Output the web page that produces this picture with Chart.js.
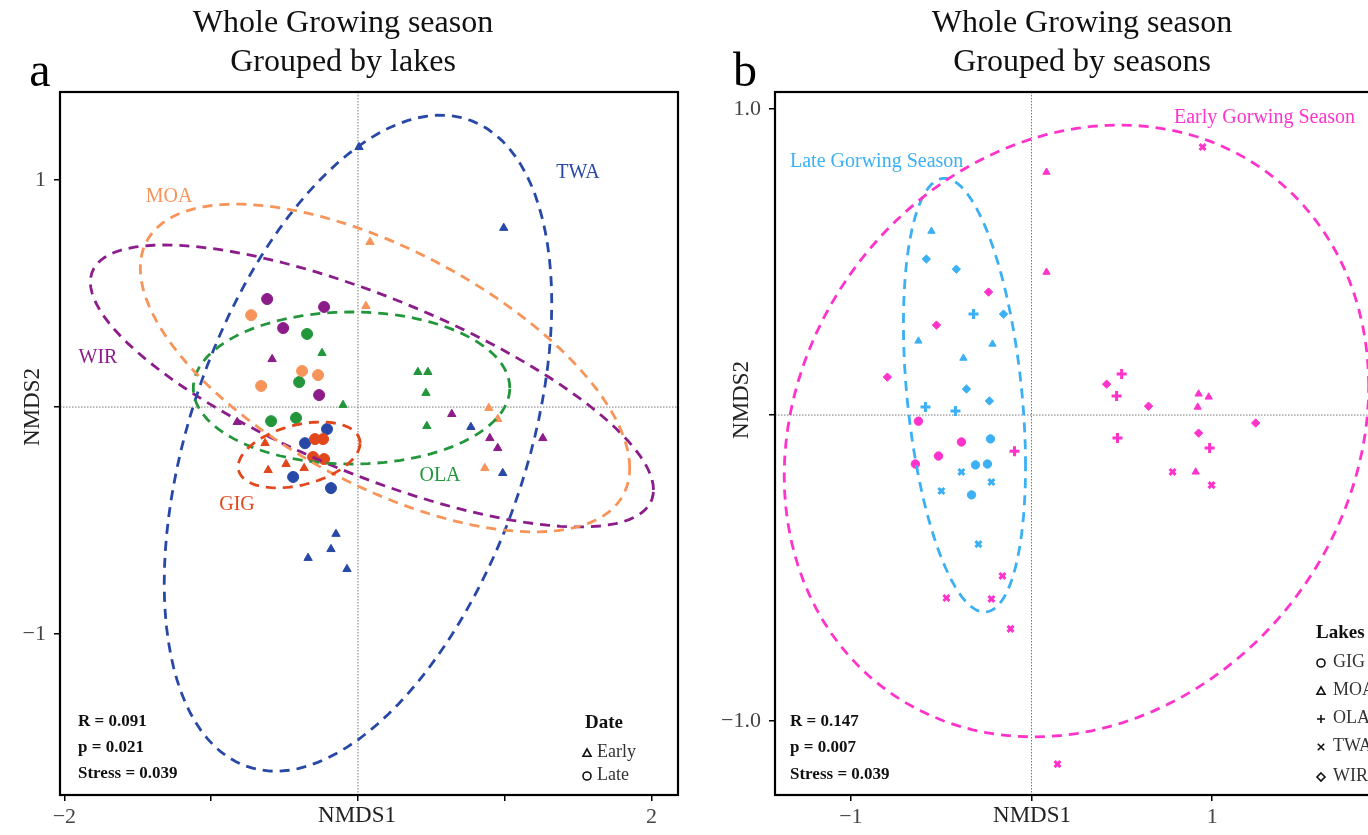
<!DOCTYPE html>
<html>
<head>
<meta charset="utf-8">
<script src="https://cdn.jsdelivr.net/npm/chart.js@4.4.1/dist/chart.umd.min.js"></script>
<style>
    html, body { margin: 0; padding: 0; background: #fff; overflow: hidden; width: 1368px; height: 835px; }
    #chartA { position: absolute; left: 0; top: 0; }
    #chartB { position: absolute; left: 700px; top: 0; }
</style>
</head>
<body>
<canvas id="chartA" width="700" height="835"></canvas>
<canvas id="chartB" width="720" height="835"></canvas>
<script>
// ---------- Panel a: NMDS scores grouped by lakes (Early = triangle, Late = circle)
const lakes = ["GIG", "MOA", "OLA", "TWA", "WIR"];

const aGigEarly = [[-0.633, -0.159], [-0.612, -0.278], [-0.490, -0.251], [-0.367, -0.269]];
const aGigLate  = [[-0.293, -0.141], [-0.238, -0.141], [-0.306, -0.220], [-0.231, -0.229]];
const aMoaEarly = [[0.082, 0.727], [0.054, 0.445], [0.891, -0.004], [0.952, -0.053], [0.864, -0.269]];
const aMoaLate  = [[-0.728, 0.405], [-0.381, 0.159], [-0.272, 0.141], [-0.660, 0.093]];
const aOlaEarly = [[-0.245, 0.238], [-0.102, 0.009], [0.408, 0.154], [0.476, 0.154], [0.463, 0.062], [0.469, -0.084]];
const aOlaLate  = [[-0.347, 0.322], [-0.401, 0.110], [-0.592, -0.062], [-0.422, -0.048]];
const aTwaEarly = [[0.007, 1.145], [0.993, 0.789], [0.769, -0.088], [0.986, -0.291], [-0.150, -0.559], [-0.184, -0.626], [-0.340, -0.665], [-0.075, -0.714]];
const aTwaLate  = [[-0.211, -0.097], [-0.361, -0.159], [-0.442, -0.308], [-0.184, -0.357]];
const aWirEarly = [[-0.585, 0.211], [-0.823, -0.066], [0.639, -0.031], [0.898, -0.137], [0.952, -0.181], [1.259, -0.137]];
const aWirLate  = [[-0.619, 0.476], [-0.231, 0.441], [-0.510, 0.348], [-0.265, 0.053]];

// confidence ellipses per lake (centre, half-width, half-height, correlation)
const aEllCx  = [-0.401, 0.184, -0.044, 0.000, 0.095];
const aEllCy  = [-0.211, 0.172, 0.084, -0.159, 0.093];
const aEllRx  = [0.415, 1.667, 1.078, 1.320, 1.918];
const aEllRy  = [0.145, 0.722, 0.335, 1.445, 0.621];
const aEllRho = [0.36, -0.61, 0.0, 0.427, -0.737];

const aTicksX = [-2, -1, 0, 1, 2];
const aTickLabelsX = ["\u22122", "", "", "", "2"];
const aTicksY = [-1, 0, 1];
const aTickLabelsY = ["\u22121", "", "1"];

// ---------- Panel b: grouped by seasons (colour = season, shape = lake)
const bGigEarly = [[-0.626, -0.020], [-0.388, -0.088], [-0.515, -0.134], [-0.643, -0.160]];
const bMoaEarly = [[0.083, 0.794], [0.083, 0.467], [0.925, 0.069], [0.981, 0.059], [0.920, 0.026], [0.909, -0.186]];
const bOlaEarly = [[0.499, 0.134], [0.471, 0.062], [0.476, -0.075], [0.986, -0.108], [-0.094, -0.118]];
const bTwaEarly = [[0.947, 0.876], [0.781, -0.186], [0.997, -0.229], [-0.161, -0.526], [-0.471, -0.598], [-0.222, -0.601], [-0.116, -0.699], [0.144, -1.141]];
const bWirEarly = [[-0.238, 0.402], [-0.526, 0.294], [-0.798, 0.124], [0.416, 0.101], [0.648, 0.029], [1.241, -0.026], [0.925, -0.059]];
const bGigLate  = [[-0.227, -0.078], [-0.310, -0.163], [-0.244, -0.160], [-0.332, -0.261]];
const bMoaLate  = [[-0.554, 0.601], [-0.626, 0.242], [-0.216, 0.232], [-0.377, 0.186]];
const bOlaLate  = [[-0.321, 0.330], [-0.587, 0.026], [-0.421, 0.013]];
const bTwaLate  = [[-0.388, -0.186], [-0.222, -0.219], [-0.499, -0.248], [-0.294, -0.422]];
const bWirLate  = [[-0.582, 0.510], [-0.416, 0.477], [-0.155, 0.330], [-0.360, 0.085], [-0.233, 0.046]];

// ellipses: [Early, Late]
const bEllCx  = [0.249, -0.371];
const bEllCy  = [-0.052, 0.065];
const bEllRx  = [1.618, 0.338];
const bEllRy  = [1.0, 0.709];
const bEllRho = [0.147, -0.328];

const bTicksX = [-1, 0, 1, 2];
const bTickLabelsX = ["\u22121", "", "1", ""];
const bTicksY = [-1, 0, 1];
const bTickLabelsY = ["\u22121.0", "", "1.0"];

// ---------- styles
const SERIF = "'Liberation Serif', 'Times New Roman', serif";
const lakeColors = ["#E2471C", "#F7945A", "#23963B", "#2848A8", "#8B1C8A"];
const EARLY = "#FF33CC";
const LATE = "#3BB0F5";
const lakeShapes = ["circle", "triangle", "cross", "crossRot", "rectRot"];

const toXY = arr => arr.map(p => ({ x: p[0], y: p[1] }));

// outline of a covariance ellipse
function ellipse(cx, cy, rx, ry, rho) {
    const pts = [];
    const s = Math.sqrt(1 - rho * rho);
    for (let i = 0; i <= 120; i++) {
        const t = i / 120 * 2 * Math.PI;
        pts.push({ x: cx + rx * Math.cos(t), y: cy + ry * (rho * Math.cos(t) + s * Math.sin(t)) });
    }
    return pts;
}

function pointSet(label, data, color, style, radius) {
    const lineOnly = style === "cross" || style === "crossRot";
    return {
        label, data: toXY(data), showLine: false,
        backgroundColor: color, borderColor: color,
        pointStyle: style, pointRadius: radius, pointHoverRadius: radius,
        borderWidth: lineOnly ? 3 : 1
    };
}

function ellipseSet(label, pts, color) {
    return {
        label, data: pts, showLine: true, fill: false, tension: 0,
        borderColor: color, borderWidth: 2.8, borderDash: [10, 7],
        pointRadius: 0, pointHoverRadius: 0
    };
}

function axis(pos, min, max, ticks, labels, size) {
    return {
        type: "linear", position: pos, min, max,
        afterBuildTicks: s => { s.ticks = ticks.map(v => ({ value: v })); },
        afterFit: s => { if (pos === "left") s.width = size; else s.height = size; },
        ticks: {
            autoSkip: false, maxRotation: 0, padding: pos === "left" ? 8 : 3, color: "#444",
            font: { family: SERIF, size: 22 },
            callback: (v, i) => labels[i]
        },
        grid: { drawOnChartArea: false, drawTicks: true, tickLength: 6, color: "#000", lineWidth: 1.5 },
        border: { display: true, color: "#000", width: 2 }
    };
}

function drawMarker(ctx, style, x, y, r) {
    ctx.beginPath();
    if (style === "circle") {
        ctx.arc(x, y, r, 0, Math.PI * 2);
    } else if (style === "triangle") {
        ctx.moveTo(x, y - r); ctx.lineTo(x + r, y + r * 0.8); ctx.lineTo(x - r, y + r * 0.8); ctx.closePath();
    } else if (style === "cross") {
        ctx.moveTo(x - r, y); ctx.lineTo(x + r, y); ctx.moveTo(x, y - r); ctx.lineTo(x, y + r);
    } else if (style === "crossRot") {
        ctx.moveTo(x - r * 0.8, y - r * 0.8); ctx.lineTo(x + r * 0.8, y + r * 0.8);
        ctx.moveTo(x + r * 0.8, y - r * 0.8); ctx.lineTo(x - r * 0.8, y + r * 0.8);
    } else if (style === "rectRot") {
        ctx.moveTo(x, y - r); ctx.lineTo(x + r, y); ctx.lineTo(x, y + r); ctx.lineTo(x - r, y); ctx.closePath();
    }
    ctx.stroke();
}

// zero lines, frame, labels and legend
const decor = {
    id: "decor",
    beforeDatasetsDraw(chart) {
        const { ctx, chartArea: a, scales: { x, y } } = chart;
        const x0 = x.getPixelForValue(0), y0 = y.getPixelForValue(0);
        ctx.save();
        ctx.strokeStyle = "#777";
        ctx.lineWidth = 1;
        ctx.setLineDash([1.5, 1.5]);
        ctx.beginPath();
        ctx.moveTo(x0, a.top); ctx.lineTo(x0, a.bottom);
        ctx.moveTo(a.left, y0); ctx.lineTo(a.right, y0);
        ctx.stroke();
        ctx.restore();
    },
    afterDraw(chart, args, o) {
        const { ctx, chartArea: a } = chart;
        ctx.save();
        ctx.strokeStyle = "#000";
        ctx.lineWidth = 2.2;
        ctx.strokeRect(a.left, a.top, a.right - a.left, a.bottom - a.top);
        ctx.textBaseline = "middle";
        o.texts.forEach(t => {
            ctx.save();
            ctx.font = t.font;
            ctx.fillStyle = t.color || "#111";
            ctx.textAlign = t.align || "center";
            ctx.translate(t.x, t.y);
            if (t.rot) ctx.rotate(t.rot);
            ctx.fillText(t.t, 0, 0);
            ctx.restore();
        });
        ctx.strokeStyle = "#111";
        ctx.lineWidth = 1.6;
        o.legend.forEach(m => drawMarker(ctx, m.style, m.x, m.y, 4));
        ctx.restore();
    }
};

// ---------- chart a
const aGroups = [[aGigEarly, aGigLate], [aMoaEarly, aMoaLate], [aOlaEarly, aOlaLate], [aTwaEarly, aTwaLate], [aWirEarly, aWirLate]];
const aDatasets = [];
lakes.forEach((lake, i) => {
    aDatasets.push(ellipseSet(lake, ellipse(aEllCx[i], aEllCy[i], aEllRx[i], aEllRy[i], aEllRho[i]), lakeColors[i]));
});
lakes.forEach((lake, i) => {
    aDatasets.push(pointSet(lake + " Early", aGroups[i][0], lakeColors[i], "triangle", 4.8));
    aDatasets.push(pointSet(lake + " Late", aGroups[i][1], lakeColors[i], "circle", 5.5));
});

const titleFont = "32px " + SERIF;
const labFont = "20px " + SERIF;
const statFont = "bold 17px " + SERIF;

new Chart(document.getElementById("chartA"), {
    type: "scatter",
    data: { datasets: aDatasets },
    options: {
        responsive: false, animation: false,
        layout: { padding: { left: 0, top: 92, right: 22, bottom: 0 } },
        scales: {
            x: axis("bottom", -2.03, 2.18, aTicksX, aTickLabelsX, 40),
            y: axis("left", -1.709, 1.388, aTicksY, aTickLabelsY, 60)
        },
        plugins: {
            legend: { display: false },
            tooltip: { enabled: false },
            decor: {
                texts: [
                    { t: "Whole Growing season", x: 343, y: 24, font: titleFont },
                    { t: "Grouped by lakes", x: 343, y: 63, font: titleFont },
                    { t: "a", x: 40, y: 73, font: "48px " + SERIF, color: "#000" },
                    { t: "MOA", x: 169, y: 197, font: labFont, color: lakeColors[1] },
                    { t: "WIR", x: 98, y: 358, font: labFont, color: lakeColors[4] },
                    { t: "TWA", x: 578, y: 173, font: labFont, color: lakeColors[3] },
                    { t: "GIG", x: 237, y: 505, font: labFont, color: lakeColors[0] },
                    { t: "OLA", x: 440, y: 476, font: labFont, color: lakeColors[2] },
                    { t: "R = 0.091", x: 78, y: 722, font: statFont, align: "left" },
                    { t: "p = 0.021", x: 78, y: 748, font: statFont, align: "left" },
                    { t: "Stress = 0.039", x: 78, y: 774, font: statFont, align: "left" },
                    { t: "Date", x: 585, y: 723, font: "bold 19px " + SERIF, align: "left" },
                    { t: "Early", x: 597, y: 752, font: "18px " + SERIF, align: "left", color: "#333" },
                    { t: "Late", x: 597, y: 775, font: "18px " + SERIF, align: "left", color: "#333" },
                    { t: "NMDS1", x: 357, y: 816, font: "23px " + SERIF, color: "#222" },
                    { t: "NMDS2", x: 33, y: 407, font: "23px " + SERIF, color: "#222", rot: -Math.PI / 2 }
                ],
                legend: [
                    { style: "triangle", x: 587, y: 753 },
                    { style: "circle", x: 587, y: 776 }
                ]
            }
        }
    },
    plugins: [decor]
});

// ---------- chart b
const bEarly = [bGigEarly, bMoaEarly, bOlaEarly, bTwaEarly, bWirEarly];
const bLate = [bGigLate, bMoaLate, bOlaLate, bTwaLate, bWirLate];
const bDatasets = [
    ellipseSet("Early Gorwing Season", ellipse(bEllCx[0], bEllCy[0], bEllRx[0], bEllRy[0], bEllRho[0]), EARLY),
    ellipseSet("Late Gorwing Season", ellipse(bEllCx[1], bEllCy[1], bEllRx[1], bEllRy[1], bEllRho[1]), LATE)
];
lakes.forEach((lake, i) => {
    const r = lakeShapes[i] === "cross" ? 5 : 4.2;
    bDatasets.push(pointSet(lake + " Early", bEarly[i], EARLY, lakeShapes[i], r));
    bDatasets.push(pointSet(lake + " Late", bLate[i], LATE, lakeShapes[i], r));
});

const legY = [662, 690, 718, 746, 776];

new Chart(document.getElementById("chartB"), {
    type: "scatter",
    data: { datasets: bDatasets },
    options: {
        responsive: false, animation: false,
        layout: { padding: { left: 0, top: 92, right: 20, bottom: 0 } },
        scales: {
            x: axis("bottom", -1.42, 2.04, bTicksX, bTickLabelsX, 40),
            y: axis("left", -1.242, 1.056, bTicksY, bTickLabelsY, 75)
        },
        plugins: {
            legend: { display: false },
            tooltip: { enabled: false },
            decor: {
                texts: [
                    { t: "Whole Growing season", x: 382, y: 24, font: titleFont },
                    { t: "Grouped by seasons", x: 382, y: 63, font: titleFont },
                    { t: "b", x: 45, y: 73, font: "48px " + SERIF, color: "#000" },
                    { t: "Late Gorwing Season", x: 90, y: 162, font: labFont, color: LATE, align: "left" },
                    { t: "Early Gorwing Season", x: 474, y: 118, font: labFont, color: EARLY, align: "left" },
                    { t: "R = 0.147", x: 90, y: 722, font: statFont, align: "left" },
                    { t: "p = 0.007", x: 90, y: 748, font: statFont, align: "left" },
                    { t: "Stress = 0.039", x: 90, y: 775, font: statFont, align: "left" },
                    { t: "Lakes", x: 616, y: 633, font: "bold 19px " + SERIF, align: "left" }
                ].concat(lakes.map((lake, i) => (
                    { t: lake, x: 633, y: legY[i], font: "18px " + SERIF, align: "left", color: "#333" }
                ))).concat([
                    { t: "NMDS1", x: 332, y: 816, font: "23px " + SERIF, color: "#222" },
                    { t: "NMDS2", x: 42, y: 400, font: "23px " + SERIF, color: "#222", rot: -Math.PI / 2 }
                ]),
                legend: lakes.map((lake, i) => ({ style: lakeShapes[i], x: 621, y: legY[i] + 1 }))
            }
        }
    },
    plugins: [decor]
});
</script>
</body>
</html>
